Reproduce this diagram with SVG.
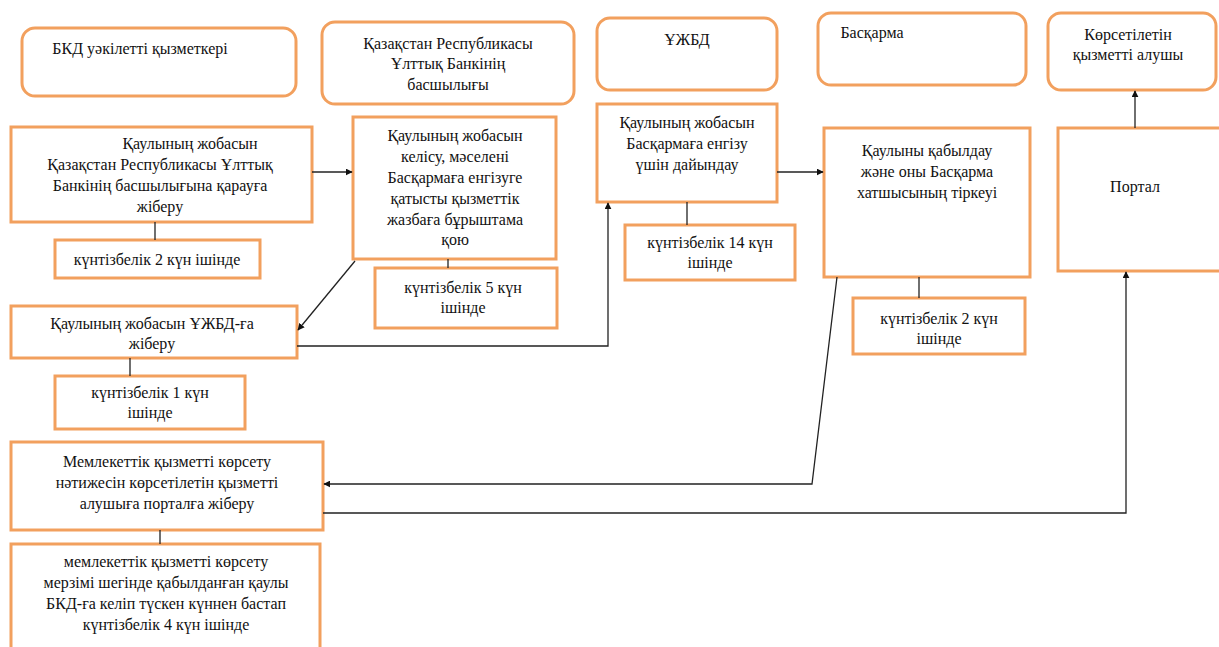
<svg xmlns="http://www.w3.org/2000/svg" width="1219" height="647" viewBox="0 0 1219 647" font-family="Liberation Serif, DejaVu Serif, serif">
  <style>
    .hdr { fill: #fff; stroke: #F2A05E; stroke-width: 3; }
    .box { fill: #fff; stroke: #F2A05E; stroke-width: 3; }
    .t { font-size: 16px; fill: #111; text-anchor: middle; }
    .ln { fill: none; stroke: #222; stroke-width: 1.3; }
  </style>
  <defs>
    <marker id="arr" viewBox="0 0 10 10" refX="9" refY="5" markerWidth="7" markerHeight="7" orient="auto" markerUnits="userSpaceOnUse">
      <path d="M0,0 L10,5 L0,10 z" fill="#111"/>
    </marker>
  </defs>

  <rect width="1219" height="647" fill="#fff"/>

  <!-- swimlane headers -->
  <g id="lane-bkd">
    <rect class="hdr" x="22" y="28" width="274" height="68" rx="13"/>
    <text class="t" x="140" y="54">БКД уәкілетті қызметкері</text>
  </g>
  <g id="lane-leadership">
    <rect class="hdr" x="322" y="22" width="252" height="82" rx="13"/>
    <text class="t" x="448" y="49">Қазақстан Республикасы</text>
    <text class="t" x="448" y="69">Ұлттық Банкінің</text>
    <text class="t" x="448" y="90">басшылығы</text>
  </g>
  <g id="lane-uzhbd">
    <rect class="hdr" x="597" y="18" width="180" height="72" rx="13"/>
    <text class="t" x="687" y="45">ҰЖБД</text>
  </g>
  <g id="lane-board">
    <rect class="hdr" x="818" y="13" width="208" height="72" rx="13"/>
    <text class="t" x="872" y="38">Басқарма</text>
  </g>
  <g id="lane-recipient">
    <rect class="hdr" x="1048" y="13" width="168" height="77" rx="13"/>
    <text class="t" x="1128" y="40">Көрсетілетін</text>
    <text class="t" x="1128" y="60">қызметті алушы</text>
  </g>

  <!-- process steps -->
  <g id="step-send-leadership">
    <rect class="box" x="11" y="127" width="301" height="95"/>
    <text class="t" x="190" y="149">Қаулының жобасын</text>
    <text class="t" x="160" y="170">Қазақстан Республикасы Ұлттық</text>
    <text class="t" x="160" y="191">Банкінің басшылығына қарауға</text>
    <text class="t" x="160" y="212">жіберу</text>
  </g>
  <g id="dur-send-leadership">
    <rect class="box" x="55" y="240" width="205" height="38"/>
    <text class="t" x="157" y="265">күнтізбелік 2 күн ішінде</text>
  </g>
  <g id="step-approve">
    <rect class="box" x="353" y="117" width="203" height="142"/>
    <text class="t" x="455" y="141">Қаулының жобасын</text>
    <text class="t" x="455" y="162">келісу, мәселені</text>
    <text class="t" x="455" y="183">Басқармаға енгізуге</text>
    <text class="t" x="455" y="204">қатысты қызметтік</text>
    <text class="t" x="455" y="225">жазбаға бұрыштама</text>
    <text class="t" x="455" y="245">қою</text>
  </g>
  <g id="dur-approve">
    <rect class="box" x="375" y="268" width="182" height="60"/>
    <text class="t" x="463" y="293">күнтізбелік 5 күн</text>
    <text class="t" x="463" y="313">ішінде</text>
  </g>
  <g id="step-send-uzhbd">
    <rect class="box" x="11" y="306" width="286" height="52"/>
    <text class="t" x="152" y="329">Қаулының жобасын ҰЖБД-ға</text>
    <text class="t" x="152" y="349">жіберу</text>
  </g>
  <g id="dur-send-uzhbd">
    <rect class="box" x="55" y="376" width="190" height="53"/>
    <text class="t" x="150" y="398">күнтізбелік 1 күн</text>
    <text class="t" x="150" y="418">ішінде</text>
  </g>
  <g id="step-prepare">
    <rect class="box" x="597" y="104" width="180" height="98"/>
    <text class="t" x="687" y="128">Қаулының жобасын</text>
    <text class="t" x="687" y="149">Басқармаға енгізу</text>
    <text class="t" x="687" y="170">үшін дайындау</text>
  </g>
  <g id="dur-prepare">
    <rect class="box" x="625" y="225" width="170" height="55"/>
    <text class="t" x="710" y="248">күнтізбелік 14 күн</text>
    <text class="t" x="710" y="268">ішінде</text>
  </g>
  <g id="step-adopt">
    <rect class="box" x="824" y="128" width="206" height="149"/>
    <text class="t" x="927" y="156">Қаулыны қабылдау</text>
    <text class="t" x="927" y="177">және оны Басқарма</text>
    <text class="t" x="927" y="198">хатшысының тіркеуі</text>
  </g>
  <g id="dur-adopt">
    <rect class="box" x="853" y="298" width="172" height="56"/>
    <text class="t" x="939" y="324">күнтізбелік 2 күн</text>
    <text class="t" x="939" y="344">ішінде</text>
  </g>
  <g id="step-portal">
    <rect class="box" x="1058" y="128" width="170" height="143"/>
    <text class="t" x="1135" y="192">Портал</text>
  </g>
  <g id="step-result">
    <rect class="box" x="11" y="442" width="312" height="88"/>
    <text class="t" x="167" y="467">Мемлекеттік қызметті көрсету</text>
    <text class="t" x="167" y="488">нәтижесін көрсетілетін қызметті</text>
    <text class="t" x="167" y="509">алушыға порталға жіберу</text>
  </g>
  <g id="dur-result">
    <rect class="box" x="11" y="544" width="309" height="110"/>
    <text class="t" x="166" y="567">мемлекеттік қызметті көрсету</text>
    <text class="t" x="166" y="588">мерзімі шегінде қабылданған қаулы</text>
    <text class="t" x="166" y="609">БКД-ға келіп түскен күннен бастап</text>
    <text class="t" x="166" y="630">күнтізбелік 4 күн ішінде</text>
  </g>

  <!-- connectors -->
  <g id="connectors">
    <line class="ln" x1="155" y1="222" x2="155" y2="240"/>
    <line class="ln" x1="448" y1="259" x2="448" y2="268"/>
    <line class="ln" x1="130" y1="358" x2="130" y2="376"/>
    <line class="ln" x1="687" y1="202" x2="687" y2="225"/>
    <line class="ln" x1="919" y1="277" x2="919" y2="298"/>
    <line class="ln" x1="160" y1="530" x2="160" y2="544"/>

    <line class="ln" x1="312" y1="172" x2="352" y2="172" marker-end="url(#arr)"/>
    <line class="ln" x1="355" y1="261" x2="298" y2="330" marker-end="url(#arr)"/>
    <polyline class="ln" points="297,346 608,346 608,203" marker-end="url(#arr)"/>
    <line class="ln" x1="777" y1="172" x2="823" y2="172" marker-end="url(#arr)"/>
    <polyline class="ln" points="837,277 812,484 324,484" marker-end="url(#arr)"/>
    <polyline class="ln" points="323,513 1126,513 1126,272" marker-end="url(#arr)"/>
    <line class="ln" x1="1135" y1="128" x2="1135" y2="91" marker-end="url(#arr)"/>
  </g>
</svg>
